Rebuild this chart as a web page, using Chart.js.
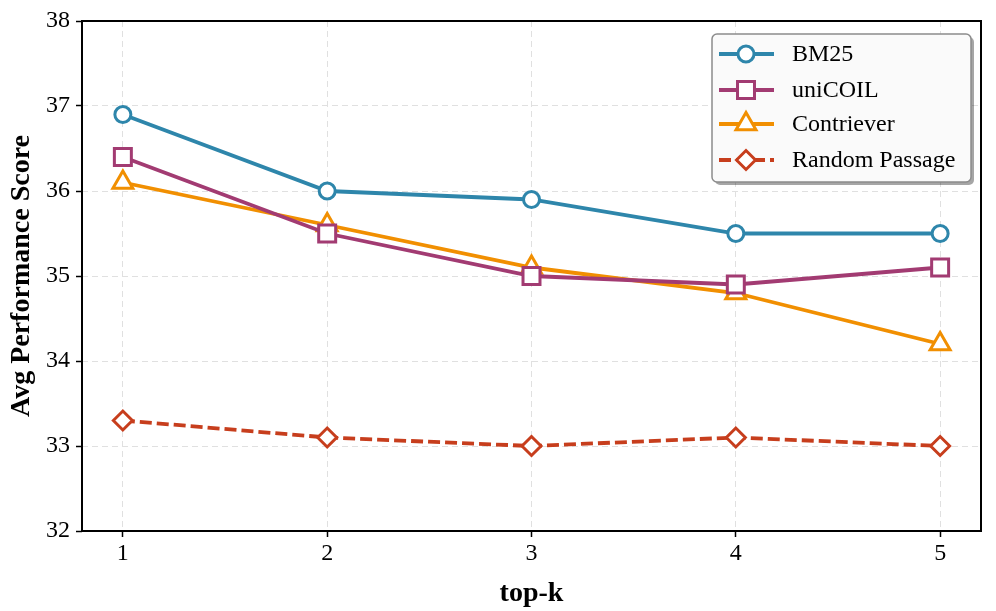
<!DOCTYPE html>
<html>
<head>
<meta charset="utf-8">
<script src="https://cdn.jsdelivr.net/npm/chart.js@4.4.0/dist/chart.umd.min.js"></script>
<style>
  html, body { margin: 0; padding: 0; background: #fff; }
  #wrap { width: 996px; height: 611px; }
</style>
</head>
<body>
<div id="wrap"><canvas id="c" width="996" height="611"></canvas></div>
<script>
// data
const topK = [1, 2, 3, 4, 5];
const bm25 = [36.9, 36.0, 35.9, 35.5, 35.5];
const unicoil = [36.4, 35.5, 35.0, 34.9, 35.1];
const contriever = [36.1, 35.6, 35.1, 34.8, 34.2];
const randomPassage = [33.3, 33.1, 33.0, 33.1, 33.0];
const yTicks = [32, 33, 34, 35, 36, 37, 38];

const FONT = "'Liberation Serif', 'Times New Roman', serif";

function pts(vals) {
    return vals.map((v, i) => ({ x: topK[i], y: v }));
}

function series(label, vals, color, style, radius, dash) {
    return {
        label: label,
        data: pts(vals),
        borderColor: color,
        backgroundColor: '#ffffff',
        borderWidth: 3.8,
        borderDash: dash || [],
        pointStyle: style,
        pointRadius: radius,
        pointBorderWidth: 3,
        pointBorderColor: color,
        pointBackgroundColor: '#ffffff',
        tension: 0
    };
}

function roundRect(ctx, x, y, w, h, r) {
    ctx.beginPath();
    ctx.moveTo(x + r, y);
    ctx.arcTo(x + w, y, x + w, y + h, r);
    ctx.arcTo(x + w, y + h, x, y + h, r);
    ctx.arcTo(x, y + h, x, y, r);
    ctx.arcTo(x, y, x + w, y, r);
    ctx.closePath();
}

// frame around the plot + legend box inside the top right corner
const framePlugin = {
    id: 'frame',
    afterDatasetsDraw(chart) {
        const { ctx, chartArea: a } = chart;
        ctx.save();
        ctx.strokeStyle = '#000';
        ctx.lineWidth = 2;
        ctx.strokeRect(a.left, a.top, a.right - a.left, a.bottom - a.top);
        ctx.restore();
    },
    afterDraw(chart) {
        const ctx = chart.ctx;
        const bx = 712, by = 34, bw = 259, bh = 148, r = 5;
        ctx.save();
        ctx.fillStyle = 'rgba(0,0,0,0.35)';
        roundRect(ctx, bx + 3, by + 3, bw, bh, r);
        ctx.fill();
        ctx.fillStyle = '#fafafa';
        roundRect(ctx, bx, by, bw, bh, r);
        ctx.fill();
        ctx.strokeStyle = '#8c8c8c';
        ctx.lineWidth = 1.5;
        ctx.stroke();

        const rows = [54, 90, 124, 160];
        chart.data.datasets.forEach((ds, i) => {
            const y = rows[i];
            ctx.save();
            ctx.strokeStyle = ds.borderColor;
            ctx.lineWidth = ds.borderWidth;
            ctx.setLineDash(ds.borderDash);
            ctx.beginPath();
            ctx.moveTo(719, y);
            ctx.lineTo(774, y);
            ctx.stroke();
            ctx.restore();

            ctx.save();
            ctx.fillStyle = '#fff';
            ctx.strokeStyle = ds.borderColor;
            ctx.lineWidth = ds.pointBorderWidth;
            Chart.helpers.drawPoint(ctx, {
                pointStyle: ds.pointStyle,
                radius: ds.pointRadius,
                borderWidth: ds.pointBorderWidth,
                rotation: 0
            }, 746, y);
            ctx.restore();

            ctx.fillStyle = '#000';
            ctx.font = '24px ' + FONT;
            ctx.textBaseline = 'middle';
            ctx.fillText(ds.label, 792, y + 1);
        });
        ctx.restore();
    }
};

new Chart(document.getElementById('c'), {
    type: 'line',
    data: {
        datasets: [
            series('BM25', bm25, '#2E86AB', 'circle', 8),
            series('uniCOIL', unicoil, '#A23B72', 'rect', 12),
            series('Contriever', contriever, '#F18F01', 'triangle', 11.5),
            series('Random Passage', randomPassage, '#C73E1D', 'rectRot', 9.5, [12, 5])
        ]
    },
    options: {
        responsive: false,
        devicePixelRatio: 1,
        animation: false,
        layout: { padding: { top: 21, right: 14, left: 0, bottom: 0 } },
        plugins: {
            legend: { display: false },
            tooltip: { enabled: false }
        },
        scales: {
            x: {
                type: 'linear',
                min: 0.8,
                max: 5.2,
                afterBuildTicks: s => { s.ticks = topK.map(v => ({ value: v })); },
                afterFit: s => { s.height = 80; },
                grid: {
                    color: '#e0e0e0',
                    lineWidth: 1,
                    tickLength: 6,
                    tickColor: '#000',
                    tickWidth: 1.5
                },
                border: { display: false, dash: [6, 4] },
                ticks: {
                    color: '#000',
                    font: { family: FONT, size: 24 },
                    padding: 2,
                    callback: v => String(v)
                },
                title: {
                    display: true,
                    text: 'top-k',
                    color: '#000',
                    font: { family: FONT, size: 28, weight: 'bold' },
                    padding: { top: 11, bottom: 0 }
                }
            },
            y: {
                min: 32,
                max: 38,
                afterBuildTicks: s => { s.ticks = yTicks.map(v => ({ value: v })); },
                afterFit: s => { s.width = 82; },
                grid: {
                    color: '#e0e0e0',
                    lineWidth: 1,
                    tickLength: 6,
                    tickColor: '#000',
                    tickWidth: 1.5
                },
                border: { display: false, dash: [6, 4] },
                ticks: {
                    color: '#000',
                    font: { family: FONT, size: 24 },
                    padding: 6
                },
                title: {
                    display: true,
                    text: 'Avg Performance Score',
                    color: '#000',
                    font: { family: FONT, size: 28, weight: 'bold' },
                    padding: { top: 5, bottom: 0 }
                }
            }
        }
    },
    plugins: [framePlugin]
});
</script>
</body>
</html>
